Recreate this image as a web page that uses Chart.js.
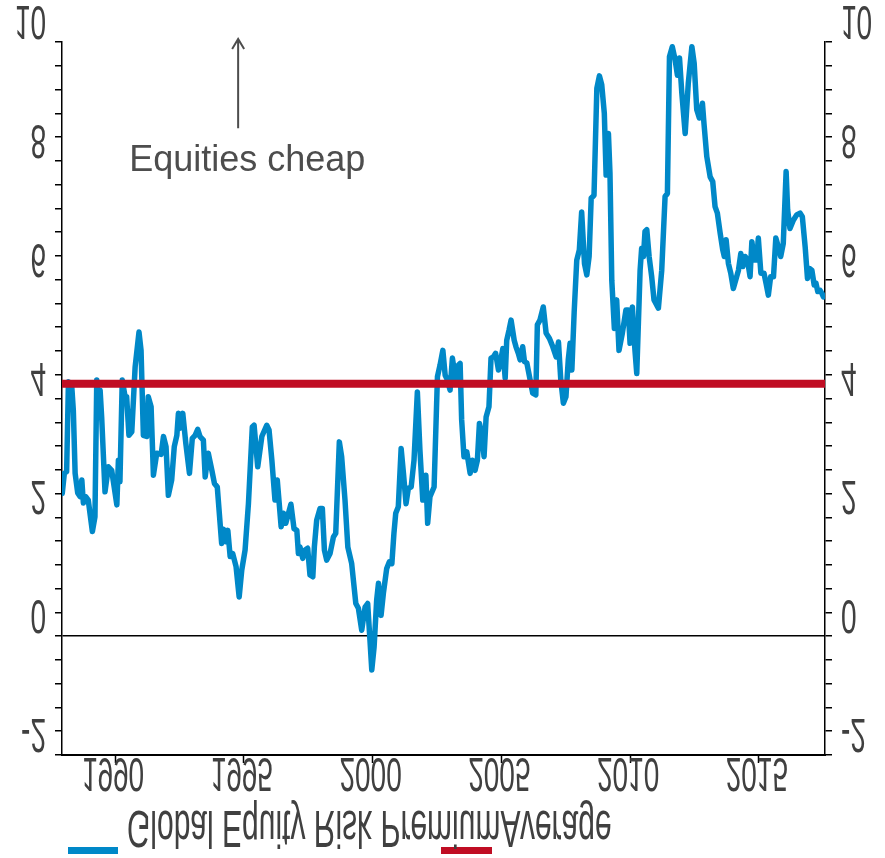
<!DOCTYPE html>
<html>
<head>
<meta charset="utf-8">
<script src="https://cdn.jsdelivr.net/npm/chart.js@4/dist/chart.umd.min.js"></script>
<style>
  body { margin: 0; background: #fff; }
  #erpChart { display: block; }
</style>
</head>
<body>
<canvas id="erpChart" width="885" height="858"></canvas>
<script>
// decimal year of each reading
var years = [
    1987.95, 1988.03, 1988.12, 1988.19, 1988.25, 1988.32, 1988.38, 1988.45, 1988.55, 1988.64,
    1988.71, 1988.77, 1988.86, 1988.96, 1989.12, 1989.22, 1989.29, 1989.35, 1989.42, 1989.48,
    1989.61, 1989.74, 1989.87, 1990.07, 1990.13, 1990.19, 1990.28, 1990.39, 1990.45, 1990.54,
    1990.65, 1990.78, 1990.93, 1991.01, 1991.10, 1991.23, 1991.29, 1991.40, 1991.49, 1991.62,
    1991.79, 1991.88, 1991.98, 1992.07, 1992.20, 1992.30, 1992.40, 1992.46, 1992.52, 1992.63,
    1992.75, 1992.89, 1993.00, 1993.11, 1993.21, 1993.30, 1993.43, 1993.50, 1993.62, 1993.76,
    1993.86, 1993.97, 1994.14, 1994.21, 1994.30, 1994.38, 1994.47, 1994.57, 1994.70, 1994.82,
    1994.92,
    1995.05, 1995.18, 1995.33, 1995.40, 1995.54, 1995.70, 1995.89, 1995.98, 1996.09, 1996.21,
    1996.30, 1996.45, 1996.54, 1996.63, 1996.83, 1996.95, 1997.06, 1997.12, 1997.18, 1997.29,
    1997.38, 1997.48, 1997.57, 1997.68, 1997.74, 1997.83, 1997.96, 1998.05, 1998.13, 1998.22,
    1998.35, 1998.48, 1998.57, 1998.71, 1998.80, 1998.93, 1999.04, 1999.19, 1999.35, 1999.45,
    1999.58, 1999.71, 1999.81, 1999.90, 1999.97, 2000.06, 2000.16, 2000.23, 2000.33, 2000.42,
    2000.55, 2000.65, 2000.75, 2000.83, 2000.90, 2001.00, 2001.11, 2001.20, 2001.30, 2001.39,
    2001.50, 2001.61, 2001.74, 2001.84, 2001.95, 2002.07, 2002.14,
    2002.23, 2002.39, 2002.52, 2002.62, 2002.73, 2002.82, 2002.91, 2003.01, 2003.10, 2003.17,
    2003.23, 2003.33, 2003.40, 2003.46, 2003.55, 2003.66, 2003.79, 2003.88, 2003.98, 2004.07,
    2004.15, 2004.24, 2004.33, 2004.41, 2004.52, 2004.60, 2004.69, 2004.78, 2004.89, 2004.98,
    2005.06, 2005.15, 2005.21, 2005.30, 2005.38, 2005.50, 2005.57, 2005.66, 2005.73, 2005.83,
    2005.90, 2005.99, 2006.12, 2006.22, 2006.34, 2006.40, 2006.50, 2006.63, 2006.74, 2006.87,
    2007.00, 2007.13, 2007.22, 2007.31, 2007.41, 2007.51, 2007.60, 2007.67, 2007.74,
    2007.83, 2007.93, 2008.03, 2008.12, 2008.23, 2008.32, 2008.41, 2008.49, 2008.60, 2008.71,
    2008.81, 2008.90, 2009.00, 2009.07, 2009.16, 2009.22, 2009.29, 2009.39, 2009.48, 2009.57,
    2009.70, 2009.84, 2009.93, 2010.00, 2010.09, 2010.19, 2010.26, 2010.39, 2010.45, 2010.52,
    2010.58, 2010.65, 2010.74, 2010.84, 2010.93, 2011.10, 2011.23, 2011.36, 2011.45, 2011.53,
    2011.64, 2011.75, 2011.84, 2011.92, 2012.01, 2012.14, 2012.26,
    2012.40, 2012.49, 2012.59, 2012.69, 2012.81, 2012.87, 2012.98, 2013.11, 2013.21, 2013.30,
    2013.39, 2013.50, 2013.60, 2013.66, 2013.73, 2013.82, 2013.91, 2014.01, 2014.12, 2014.21,
    2014.30, 2014.38, 2014.47, 2014.56, 2014.66, 2014.73, 2014.82, 2014.92, 2014.98, 2015.08,
    2015.20, 2015.28, 2015.37, 2015.46, 2015.57, 2015.66, 2015.76, 2015.85, 2015.95, 2016.06,
    2016.12, 2016.21, 2016.34, 2016.47, 2016.60, 2016.69, 2016.80, 2016.89, 2016.96, 2017.06,
    2017.15, 2017.22, 2017.29, 2017.38, 2017.45, 2017.51
];

// global equity risk premium, %
var premium = [
    2.40, 2.74, 2.77, 4.28, 3.97, 4.20, 3.80, 2.74, 2.41, 2.35,
    2.63, 2.24, 2.35, 2.29, 1.76, 2.01, 4.31, 3.80, 4.14, 3.69,
    2.43, 2.85, 2.79, 2.21, 2.96, 2.60, 4.31, 4.03, 4.03, 3.38,
    3.44, 4.53, 5.12, 4.81, 3.38, 3.36, 4.03, 3.86, 2.71, 3.08,
    3.06, 3.36, 3.19, 2.37, 2.63, 3.19, 3.38, 3.75, 3.50, 3.75,
    3.24, 2.74, 3.33, 3.38, 3.48, 3.36, 3.30, 2.68, 3.08, 2.79,
    2.57, 2.51, 1.56, 1.80, 1.59, 1.78, 1.34, 1.39, 1.17, 0.66,
    1.11,
    1.45, 2.23, 3.52, 3.55, 2.85, 3.36, 3.55, 3.47, 2.96, 2.29,
    2.63, 1.84, 2.07, 1.90, 2.22, 1.81, 1.78, 1.39, 1.50, 1.31,
    1.45, 1.48, 1.03, 1.00, 1.50, 1.95, 2.15, 2.15, 1.45, 1.28,
    1.39, 1.67, 1.73, 3.27, 3.02, 2.29, 1.50, 1.22, 0.55, 0.47,
    0.10, 0.49, 0.55, -0.07, -0.57, -0.18, 0.61, 0.89, 0.35, 0.72,
    1.14, 1.25, 1.22, 1.73, 2.07, 2.18, 3.16, 2.74, 2.23, 2.49,
    2.51, 2.96, 4.11, 3.13, 2.29, 2.71, 1.90,
    2.35, 2.51, 4.37, 4.56, 4.81, 4.39, 4.31, 4.14, 4.68, 4.48,
    4.31, 4.56, 4.59, 3.64, 3.02, 3.10, 2.74, 2.96, 2.79, 2.96,
    3.58, 3.41, 3.02, 3.69, 3.86, 4.68, 4.70, 4.76, 4.48, 4.65,
    4.84, 4.34, 4.98, 5.15, 5.32, 4.98, 4.87, 4.76, 4.65, 4.87,
    4.62, 4.60, 4.31, 4.09, 4.06, 5.24, 5.32, 5.54, 5.10, 5.01,
    4.87, 4.70, 4.95, 4.31, 3.92, 4.03, 4.65, 4.93, 4.48,
    5.46, 6.33, 6.50, 7.14, 6.27, 6.08, 6.39, 7.37, 7.42, 9.22,
    9.43, 9.28, 8.80, 7.76, 8.46, 7.79, 5.99, 5.18, 5.66, 4.81,
    5.10, 5.49, 5.49, 4.93, 5.54, 4.81, 4.42, 6.16, 6.53, 6.39,
    6.81, 6.84, 6.39, 6.05, 5.66, 5.52, 6.16, 7.40, 7.45, 9.75,
    9.92, 9.70, 9.44, 9.73, 9.14, 8.46, 9.30,
    9.92, 9.64, 8.86, 8.72, 8.97, 8.63, 8.07, 7.73, 7.65, 7.23,
    7.12, 6.78, 6.50, 6.39, 6.67, 6.27, 6.11, 5.85, 6.02, 6.16,
    6.44, 6.22, 6.39, 6.33, 6.05, 6.64, 6.33, 6.33, 6.70, 6.11,
    6.11, 5.94, 5.74, 6.05, 6.05, 6.70, 6.55, 6.39, 6.61, 7.82,
    7.17, 6.86, 7.00, 7.09, 7.12, 7.06, 6.55, 6.02, 6.19, 6.16,
    5.91, 5.94, 5.80, 5.82, 5.77, 5.71
];

var averagePremium = 4.25;
var seriesNames = ["Global Equity Risk Premium", "Average"];
var xRange = [1987.94, 2017.57];
var yRange = [-2, 10];
var xTickLabels = [1990, 1995, 2000, 2005, 2010, 2015];
var yTickLabels = [-2, 0, 2, 4, 6, 8, 10];
var yMinorStep = 0.4;
var noteText = "Equities cheap";

var erpChart = {
    blue: "#0088c8",
    red: "#c00d23",
    textColor: "#404040",
    stretch: 1.7,

    cachDom: function() {
        this.canvas = document.getElementById("erpChart");
    },
    init: function() {
        this.cachDom();
        this.drawChart();
    },
    // the labels in the picture are drawn upside down and tall
    flipText: function(ctx, text, x, yTop, size, align) {
        ctx.save();
        ctx.font = size + 'px "Liberation Sans", Arial, sans-serif';
        ctx.fillStyle = this.textColor;
        ctx.textAlign = align;
        ctx.textBaseline = "alphabetic";
        ctx.translate(x, yTop);
        ctx.scale(1, -this.stretch);
        ctx.fillText(text, 0, 0);
        ctx.restore();
    },
    yTicks: function() {
        var ticks = [];
        var n = Math.round((yRange[1] - yRange[0]) / yMinorStep);
        for (var i = 0; i <= n; i++) {
            ticks.push({ value: +(yRange[0] + i * yMinorStep).toFixed(2) });
        }
        return ticks;
    },
    labelPlugin: function() {
        var self = this;
        return {
            id: "flippedLabels",
            afterDraw: function(chart) {
                var ctx = chart.ctx;
                var xs = chart.scales.x;
                var ys = chart.scales.y;

                yTickLabels.forEach(function(v) {
                    var py = ys.getPixelForValue(v);
                    self.flipText(ctx, String(v), 46, py - 36, 28, "right");
                    self.flipText(ctx, String(v), 841, py - 36, 28, "left");
                });
                xTickLabels.forEach(function(v) {
                    self.flipText(ctx, String(v), xs.getPixelForValue(v) - 2, 758, 28, "center");
                });

                // legend: premium first, then average
                ctx.save();
                ctx.fillStyle = self.blue;
                ctx.fillRect(68, 847, 50, 7);
                ctx.fillStyle = self.red;
                ctx.fillRect(441, 847, 51, 7);
                ctx.font = '30px "Liberation Sans", Arial, sans-serif';
                var w = ctx.measureText(seriesNames[0]).width;
                ctx.restore();
                self.flipText(ctx, seriesNames[0], 127, 811, 30, "left");
                self.flipText(ctx, seriesNames[1], 127 + w, 811, 30, "left");

                // annotation
                var ax = xs.getPixelForValue(1994.78);
                var aTop = ys.getPixelForValue(10.05);
                var aBot = ys.getPixelForValue(8.55);
                ctx.save();
                ctx.strokeStyle = "#4d4d4d";
                ctx.lineWidth = 2;
                ctx.beginPath();
                ctx.moveTo(ax, aBot);
                ctx.lineTo(ax, aTop);
                ctx.moveTo(ax - 6, aTop + 10);
                ctx.lineTo(ax, aTop);
                ctx.lineTo(ax + 6, aTop + 10);
                ctx.stroke();
                ctx.font = '36px "Liberation Sans", Arial, sans-serif';
                ctx.fillStyle = "#4d4d4d";
                ctx.textBaseline = "alphabetic";
                ctx.fillText(noteText, xs.getPixelForValue(1990.55), ys.getPixelForValue(7.83));
                ctx.restore();
            }
        };
    },
    drawChart: function() {
        var self = this;
        var line = years.map(function(y, i) {
            return { x: y, y: premium[i] };
        });
        var avg = [
            { x: xRange[0], y: averagePremium },
            { x: xRange[1], y: averagePremium }
        ];
        var yAxis = function(pos, width, onChart) {
            return {
                type: "linear",
                position: pos,
                min: yRange[0],
                max: yRange[1],
                afterBuildTicks: function(s) { s.ticks = self.yTicks(); },
                afterFit: function(s) { s.width = width; },
                grid: {
                    display: true,
                    drawOnChartArea: onChart,
                    drawTicks: true,
                    tickLength: 7,
                    tickColor: "#000",
                    tickWidth: 1.5,
                    lineWidth: 1.5,
                    color: function(c) {
                        return c.tick && c.tick.value === 0 ? "#000" : "rgba(0,0,0,0)";
                    }
                },
                border: { display: true, color: "#000", width: 1.5 },
                ticks: { display: false }
            };
        };

        new Chart(this.canvas, {
            type: "line",
            data: {
                datasets: [{
                    label: seriesNames[0],
                    data: line,
                    borderColor: this.blue,
                    borderWidth: 5.5,
                    borderJoinStyle: "round",
                    borderCapStyle: "round",
                    pointRadius: 0,
                    tension: 0,
                    order: 1
                }, {
                    label: seriesNames[1],
                    data: avg,
                    borderColor: this.red,
                    borderWidth: 8,
                    pointRadius: 0,
                    order: 0
                }]
            },
            options: {
                responsive: false,
                animation: false,
                layout: { padding: { top: 42, left: 0, right: 0, bottom: 0 } },
                plugins: { legend: { display: false }, tooltip: { enabled: false } },
                scales: {
                    x: {
                        type: "linear",
                        position: "bottom",
                        min: xRange[0],
                        max: xRange[1],
                        afterBuildTicks: function(s) {
                            s.ticks = xTickLabels.map(function(v) { return { value: v }; });
                        },
                        afterFit: function(s) { s.height = 103; },
                        grid: {
                            display: true,
                            drawOnChartArea: false,
                            drawTicks: true,
                            tickLength: 8,
                            tickColor: "#000",
                            tickWidth: 1.5
                        },
                        border: { display: true, color: "#000", width: 2 },
                        ticks: { display: false }
                    },
                    y: yAxis("left", 62, true),
                    y2: yAxis("right", 60, false)
                }
            },
            plugins: [this.labelPlugin()]
        });
    }
};

erpChart.init();
</script>
</body>
</html>
